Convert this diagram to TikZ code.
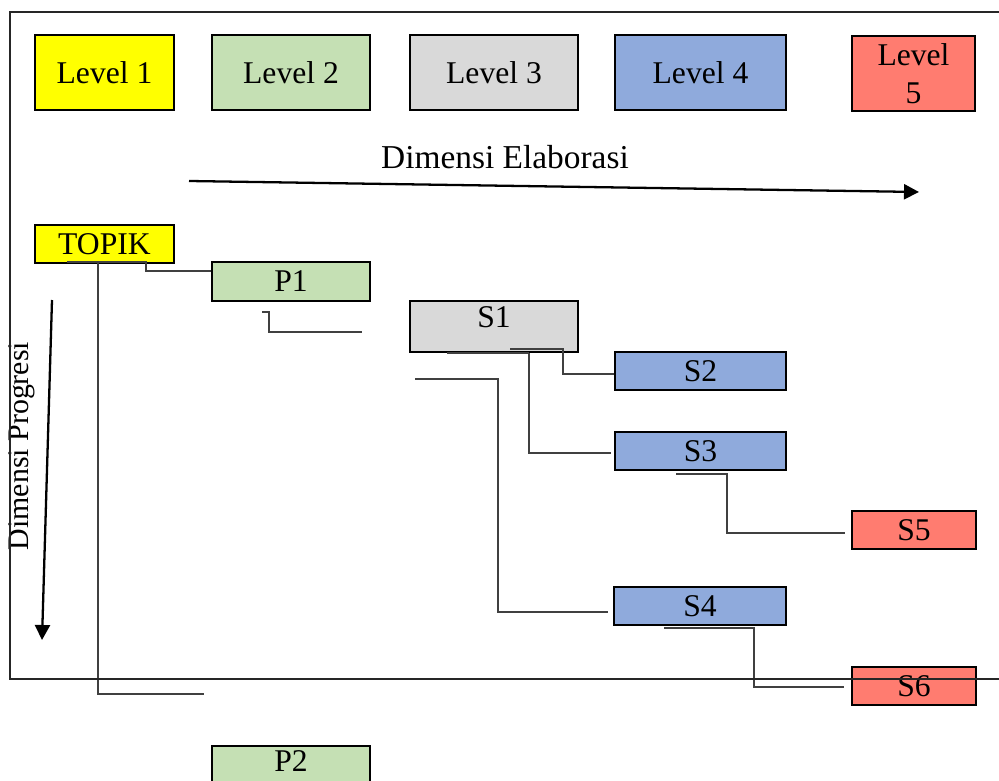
\documentclass[tikz,border=0pt]{standalone}
\usepackage{fontspec}
\setmainfont{Liberation Serif}
\usetikzlibrary{arrows.meta}
\definecolor{cyellow}{HTML}{FFFF00}
\definecolor{cgreen}{HTML}{C5E0B4}
\definecolor{cgray}{HTML}{D9D9D9}
\definecolor{cblue}{HTML}{8FAADC}
\definecolor{cred}{HTML}{FF7C70}
\definecolor{cline}{HTML}{404040}
\tikzset{
  box/.style={draw=black, line width=1.1pt, inner sep=0pt, align=center,
    font=\fontsize{18}{21.5}\selectfont},
  conn/.style={draw=cline, line width=0.65pt},
  bigarrow/.style={draw=black, line width=1.3pt, -{Triangle[length=0.3cm,width=0.3cm]}},
  frameline/.style={draw=black!85, line width=0.7pt},
  lbl/.style={inner sep=0pt, font=\fontsize{17}{20}\selectfont}
}
\begin{document}
\begin{tikzpicture}[x=0.02cm,y=-0.02cm]
\useasboundingbox (0,0) rectangle (999,780);
% level boxes
\node[box, fill=cyellow, minimum width=2.78cm, minimum height=1.5cm] (l1) at (104.5,72.5) {Level 1};
\node[box, fill=cgreen, minimum width=3.16cm, minimum height=1.5cm] (l2) at (291,72.5) {Level 2};
\node[box, fill=cgray, minimum width=3.36cm, minimum height=1.5cm] (l3) at (494,72.5) {Level 3};
\node[box, fill=cblue, minimum width=3.42cm, minimum height=1.5cm] (l4) at (700.5,72.5) {Level 4};
\node[box, fill=cred, minimum width=2.46cm, minimum height=1.5cm] (l5) at (913.5,73.5) {Level\\5};
% dimension labels and arrows
\node[lbl, font=\fontsize{19}{22}\selectfont] (elab) at (505,157) {Dimensi Elaborasi};
\coordinate (ea) at (189,181);
\coordinate (eb) at (919,192);
\draw[bigarrow] (ea) -- (eb);
\node[lbl, rotate=90] (prog) at (22,446) {Dimensi Progresi};
\coordinate (pa) at (52,300);
\coordinate (pb) at (42,640);
\draw[bigarrow] (pa) -- (pb);
% content boxes
\node[box, fill=cyellow, minimum width=2.78cm, minimum height=0.76cm] (topik) at (104.5,244) {TOPIK};
\node[box, fill=cgreen, minimum width=3.16cm, minimum height=0.78cm] (p1) at (291,281.5) {P1};
\node[box, fill=cgray, minimum width=3.36cm, minimum height=1.02cm, text depth=0.38cm] (s1) at (494,326.5) {S1};
\node[box, fill=cblue, minimum width=3.42cm, minimum height=0.76cm] (s2) at (700.5,371) {S2};
\node[box, fill=cblue, minimum width=3.42cm, minimum height=0.76cm] (s3) at (700.5,451) {S3};
\node[box, fill=cblue, minimum width=3.44cm, minimum height=0.76cm] (s4) at (700,606) {S4};
\node[box, fill=cred, minimum width=2.48cm, minimum height=0.76cm] (s5) at (914,530) {S5};
\node[box, fill=cred, minimum width=2.48cm, minimum height=0.76cm] (s6) at (914,686) {S6};
\node[box, fill=cgreen, minimum width=3.16cm, minimum height=0.78cm, text depth=0.18cm] (p2) at (291,765.5) {P2};
% connectors
\coordinate (t1) at (67,262);
\coordinate (j1) at (146,271);
\draw[conn] (t1) -| (j1) -- (j1 -| p1.west);
\coordinate (t2) at (98,262);
\coordinate (e2) at (204,694);
\draw[conn] (t2) |- (e2);
\coordinate (f1) at (262,312);
\coordinate (f2) at (269,332);
\coordinate (f3) at (362,332);
\draw[conn] (f1) -| (f2) -- (f3);
\coordinate (b1) at (447,353);
\coordinate (b2) at (529,353);
\draw[conn, line width=1pt] (b1) -- (b2);
\coordinate (j3) at (611,453);
\draw[conn] (b2) |- (j3);
\coordinate (a2) at (510,349);
\coordinate (j2) at (563,374);
\draw[conn] (a2) -| (j2) -- (j2 -| s2.west);
\coordinate (g1) at (415,379);
\coordinate (g2) at (498,612);
\coordinate (g3) at (608,612);
\draw[conn] (g1) -| (g2) -- (g3);
\coordinate (h1) at (676,474);
\coordinate (h2) at (727,533);
\coordinate (h3) at (845,533);
\draw[conn] (h1) -| (h2) -- (h3);
\coordinate (k1) at (664,628);
\coordinate (k2) at (754,687);
\coordinate (k3) at (844,687);
\draw[conn] (k1) -| (k2) -- (k3);
% frame
\draw[frameline] (999,12) -- (10,12) -- (10,679) -- (999,679);
\end{tikzpicture}
\end{document}
